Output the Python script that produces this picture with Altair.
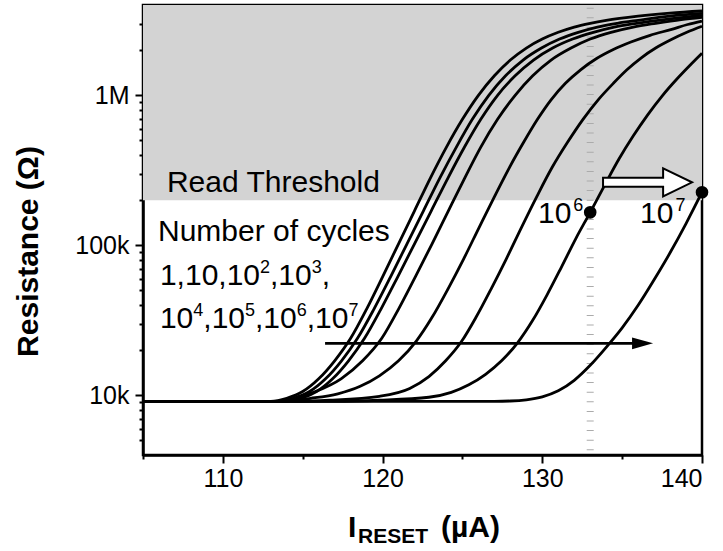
import altair as alt
import pandas as pd

# ---------------- data ----------------
X_DOMAIN = [105, 140]
R_DOMAIN = [4000, 4000000]
threshold = 200000
dotted_x = 133

cycle_names = ["1", "10", "10^2", "10^3", "10^4", "10^5", "10^6", "10^7"]

c1_x = [105, 113, 114, 115, 116, 117, 118, 119, 120, 121, 122, 123, 124, 125, 126, 127, 128, 129, 130, 131, 132, 133, 134, 136, 138, 140]
c1_r = [9120, 9120, 9550, 10593, 12882, 16982, 23988, 37584, 61660, 102330, 169820, 281840, 451860, 691830, 1000000, 1349000, 1717900, 2065400, 2371400, 2630300, 2851000, 3020000, 3162300, 3372900, 3531800, 3647500]

c2_x = [105, 113.43, 114.43, 115.43, 116.43, 117.43, 118.43, 119.46, 120.5, 121.53, 122.56, 123.59, 124.62, 125.62, 126.65, 127.7, 128.8, 129.95, 131.08, 132.25, 133.45, 134.7, 136.0, 138.0, 140]
c2_r = [9120, 9120, 9550, 10593, 12882, 16982, 23988, 37584, 61660, 102330, 169820, 281840, 451860, 691830, 1000000, 1349000, 1717900, 2065400, 2371400, 2630300, 2851000, 3020000, 3162300, 3372900, 3515600]

c3_x = [105, 113.87, 114.87, 115.87, 116.87, 117.87, 118.87, 119.9, 120.95, 122.0, 123.05, 124.1, 125.13, 126.15, 127.2, 128.3, 129.45, 130.65, 131.9, 133.2, 134.5, 135.9, 138.0, 140]
c3_r = [9120, 9120, 9550, 10593, 12882, 16982, 23988, 37584, 61660, 102330, 169820, 281840, 451860, 691830, 1000000, 1349000, 1717900, 2065400, 2371400, 2630300, 2851000, 3020000, 3235900, 3411900]

c4_x = [105, 113.3, 114.5, 115.8, 117.4, 118.75, 119.95, 121.0, 122.05, 123.1, 124.12, 125.15, 126.15, 127.2, 128.3, 129.4, 130.55, 131.8, 133.0, 134.3, 135.7, 137.1, 138.7, 140]
c4_r = [9120, 9120, 9550, 10593, 12882, 16982, 23988, 37584, 61660, 102330, 169820, 281840, 451860, 691830, 1000000, 1349000, 1717900, 2065400, 2371400, 2630300, 2851000, 3020000, 3198900, 3311300]

c5_x = [105, 113.6, 115.5, 117.2, 118.6, 119.8, 121.0, 122.1, 123.1, 124.1, 125.08, 126.05, 127.03, 127.95, 128.85, 129.7, 130.55, 131.45, 132.4, 133.4, 134.45, 135.55, 136.75, 138.1, 139.1, 140]
c5_r = [9120, 9120, 9550, 10233, 11482, 13490, 16982, 22909, 33113, 51286, 81283, 131830, 213800, 331130, 489780, 691830, 933250, 1202300, 1479100, 1757900, 2018400, 2264600, 2511900, 2754200, 2964800, 3126100]

c6_x = [105, 114.5, 116.7, 119.8, 121.7, 122.9, 123.95, 124.95, 125.85, 126.8, 127.75, 128.7, 129.68, 130.62, 131.6, 132.55, 133.5, 134.45, 135.3, 136.2, 137.1, 138.05, 139.05, 140]
c6_r = [9120, 9120, 9268, 9840, 11117, 13335, 16982, 22909, 33113, 51286, 81283, 131830, 213800, 331130, 489780, 691830, 933250, 1202300, 1479100, 1778300, 2065400, 2344200, 2630300, 2884000]

c7_x = [105, 117, 119.8, 122.9, 124.3, 125.4, 126.45, 127.45, 128.45, 129.4, 130.3, 131.2, 132.1, 133.0, 133.9, 134.8, 135.7, 136.6, 137.5, 138.4, 139.25, 140]
c7_r = [9120, 9120, 9268, 9705, 10471, 11749, 13804, 16982, 22387, 31623, 46774, 71614, 110920, 165960, 251190, 375840, 537030, 741310, 988550, 1273500, 1584900, 1905500]

c8_x = [105, 127, 128, 129, 130, 131, 132, 133, 134, 135, 136, 137, 138, 139, 140]
c8_r = [9120, 9120, 9162, 9333, 9772, 10715, 12589, 15849, 20893, 28184, 39811, 58884, 89125, 139640, 225940]

curves_x = [c1_x, c2_x, c3_x, c4_x, c5_x, c6_x, c7_x, c8_x]
curves_r = [c1_r, c2_r, c3_r, c4_r, c5_r, c6_r, c7_r, c8_r]

# marked points (10^6 at 133 uA, 10^7 at 140 uA)
dot_x = [133, 140]
dot_r = [165960, 225940]

# black shift arrow
shift_arrow_x = [116.4, 136.0]
shift_arrow_r = 22200
shift_head_x = 136.28

# white arrow
white_arrow_x = 136.59
white_arrow_r = 263000

# annotation texts (plain)
ann_text = ["Read Threshold", "Number of cycles"]
ann_x = [106.5, 105.94]
ann_r = [225600, 107000]

# annotation texts with superscripts: (text, is_superscript)
line1_pos = (106.06, 54500)
line1_segments = [("1,10,10", False), ("2", True), (",10", False), ("3", True), (",", False)]
line2_pos = (106.06, 28000)
line2_segments = [("10", False), ("4", True), (",10", False), ("5", True), (",10", False), ("6", True), (",10", False), ("7", True)]
lbl6_pos = (129.73, 140000)
lbl6_segments = [("10", False), ("6", True)]
lbl7_pos = (136.12, 140000)
lbl7_segments = [("10", False), ("7", True)]

FONT = "Liberation Sans"
BASE_SIZE = 30
SUP_SIZE = 18
SUP_RAISE = 12
ADVANCE = {ch: 0.556 for ch in "0123456789"}
ADVANCE[","] = 0.278

# ---------------- build ----------------
rows = []
for name, xs_, rs_ in zip(cycle_names, curves_x, curves_r):
    for xv, rv in zip(xs_, rs_):
        rows.append({"cycle": name, "x": xv, "y": rv})
curve_df = pd.DataFrame(rows)

xscale = alt.Scale(domain=X_DOMAIN, nice=False, zero=False)
yscale = alt.Scale(type="log", domain=R_DOMAIN, nice=False)

y_major = [10000, 100000, 1000000]
y_minor = [5000, 6000, 7000, 8000, 9000,
           20000, 30000, 40000, 50000, 60000, 70000, 80000, 90000,
           200000, 300000, 400000, 500000, 600000, 700000, 800000, 900000,
           2000000, 3000000]

xaxis = alt.Axis(
    values=[105, 110, 115, 120, 125, 130, 135, 140],
    labelExpr="(datum.value % 10 == 0 && datum.value > 105) ? datum.label : ''",
    tickSize={"condition": {"test": "datum.value % 10 == 0 && datum.value > 105", "value": 8}, "value": 4},
    labelFontSize=25, labelPadding=3, title=None, grid=False,
)
yaxis = alt.Axis(
    values=y_major + y_minor,
    labelExpr="datum.value == 10000 ? '10k' : datum.value == 100000 ? '100k' : datum.value == 1000000 ? '1M' : ''",
    tickSize={"condition": {"test": "datum.value == 10000 || datum.value == 100000 || datum.value == 1000000", "value": 8}, "value": 4},
    labelFontSize=25, labelPadding=6, grid=False,
    title="Resistance (\u03a9)", titleFontSize=30, titleFontWeight="bold", titleFont=FONT,
    titleAngle=270, titleX=-106, titleY=246, titleAlign="center", titleBaseline="alphabetic",
)

X = alt.X("x:Q", scale=xscale, axis=xaxis)
Y = alt.Y("y:Q", scale=yscale, axis=yaxis)

bg = alt.Chart(pd.DataFrame({"x": [X_DOMAIN[0]], "x2": [X_DOMAIN[1]], "y": [threshold], "y2": [R_DOMAIN[1]]})).mark_rect(
    color="#d3d3d3").encode(x=X, x2="x2:Q", y=Y, y2="y2:Q")

dotted = alt.Chart(pd.DataFrame({"x": [dotted_x], "y": [4300], "y2": [3850000]})).mark_rule(
    color="#ababab", strokeWidth=7, strokeDash=[1, 8.6]).encode(x=X, y=Y, y2="y2:Q")

lines = alt.Chart(curve_df).mark_line(color="black", strokeWidth=2.8, interpolate="monotone").encode(
    x=X, y=Y, detail="cycle:N", order="x:Q")

shift_rule = alt.Chart(pd.DataFrame({"x": [shift_arrow_x[0]], "x2": [shift_arrow_x[1]], "y": [shift_arrow_r]})).mark_rule(
    color="black", strokeWidth=2.6).encode(x=X, x2="x2:Q", y=Y)

shift_head = alt.Chart(pd.DataFrame({"x": [shift_head_x], "y": [shift_arrow_r]})).mark_point(
    shape="M -1 -0.55 L 1 0 L -1 0.55 Z", filled=True, color="black", opacity=1, size=441).encode(x=X, y=Y)

white_arrow = alt.Chart(pd.DataFrame({"x": [white_arrow_x], "y": [white_arrow_r]})).mark_point(
    shape="M -1 -0.1 L 0.35 -0.1 L 0.35 -0.315 L 1 0 L 0.35 0.315 L 0.35 0.1 L -1 0.1 Z",
    filled=True, fill="white", stroke="black", strokeWidth=2, opacity=1, size=7921).encode(x=X, y=Y)

dots = alt.Chart(pd.DataFrame({"x": dot_x, "y": dot_r})).mark_circle(
    color="black", opacity=1, size=160).encode(x=X, y=Y)

ann = alt.Chart(pd.DataFrame({"x": ann_x, "y": ann_r, "t": ann_text})).mark_text(
    align="left", baseline="alphabetic", font=FONT, fontSize=BASE_SIZE, color="black").encode(x=X, y=Y, text="t:N")


def segment_layers(pos, segments, base_size, gap_before_sup=0):
    out = []
    dx = 0.0
    for text, sup in segments:
        size = SUP_SIZE if sup else base_size
        if sup:
            dx += gap_before_sup
        out.append(
            alt.Chart(pd.DataFrame({"x": [pos[0]], "y": [pos[1]], "t": [text]})).mark_text(
                align="left", baseline="alphabetic", font=FONT, fontSize=size, color="black",
                dx=dx, dy=-SUP_RAISE if sup else 0,
            ).encode(x=X, y=Y, text="t:N")
        )
        dx += sum(ADVANCE.get(c, 0.556) for c in text) * size
    return out


seg = []
seg += segment_layers(line1_pos, line1_segments, BASE_SIZE)
seg += segment_layers(line2_pos, line2_segments, BASE_SIZE)
seg += segment_layers(lbl6_pos, lbl6_segments, BASE_SIZE, gap_before_sup=2)
seg += segment_layers(lbl7_pos, lbl7_segments, BASE_SIZE, gap_before_sup=2)

# x-axis title with subscript, placed in pixels below the plot
t_I = alt.Chart(pd.DataFrame({"t": ["I"]})).mark_text(
    align="left", baseline="alphabetic", font=FONT, fontSize=30, fontWeight="bold", color="black").encode(
    x=alt.value(205), y=alt.value(532), text="t:N")
t_sub = alt.Chart(pd.DataFrame({"t": ["RESET"]})).mark_text(
    align="left", baseline="alphabetic", font=FONT, fontSize=21, fontWeight="bold", color="black").encode(
    x=alt.value(215), y=alt.value(538), text="t:N")
t_unit = alt.Chart(pd.DataFrame({"t": ["(\u00b5A)"]})).mark_text(
    align="left", baseline="alphabetic", font=FONT, fontSize=30, fontWeight="bold", color="black").encode(
    x=alt.value(298), y=alt.value(532), text="t:N")

chart = alt.layer(bg, dotted, lines, shift_rule, shift_head, white_arrow, dots, ann, *seg, t_I, t_sub, t_unit).properties(
    width=559, height=450,
    autosize=alt.AutoSizeParams(type="none"),
    padding={"left": 143, "top": 5, "right": 21, "bottom": 96},
).configure_view(
    stroke="black", strokeWidth=2.5
).configure_axis(
    domainColor="black", domainWidth=2.5, tickColor="black", tickWidth=2,
    labelColor="black", labelFont=FONT, titleColor="black",
)

chart.save("out.html", embed_options={"renderer": "svg", "actions": False})
